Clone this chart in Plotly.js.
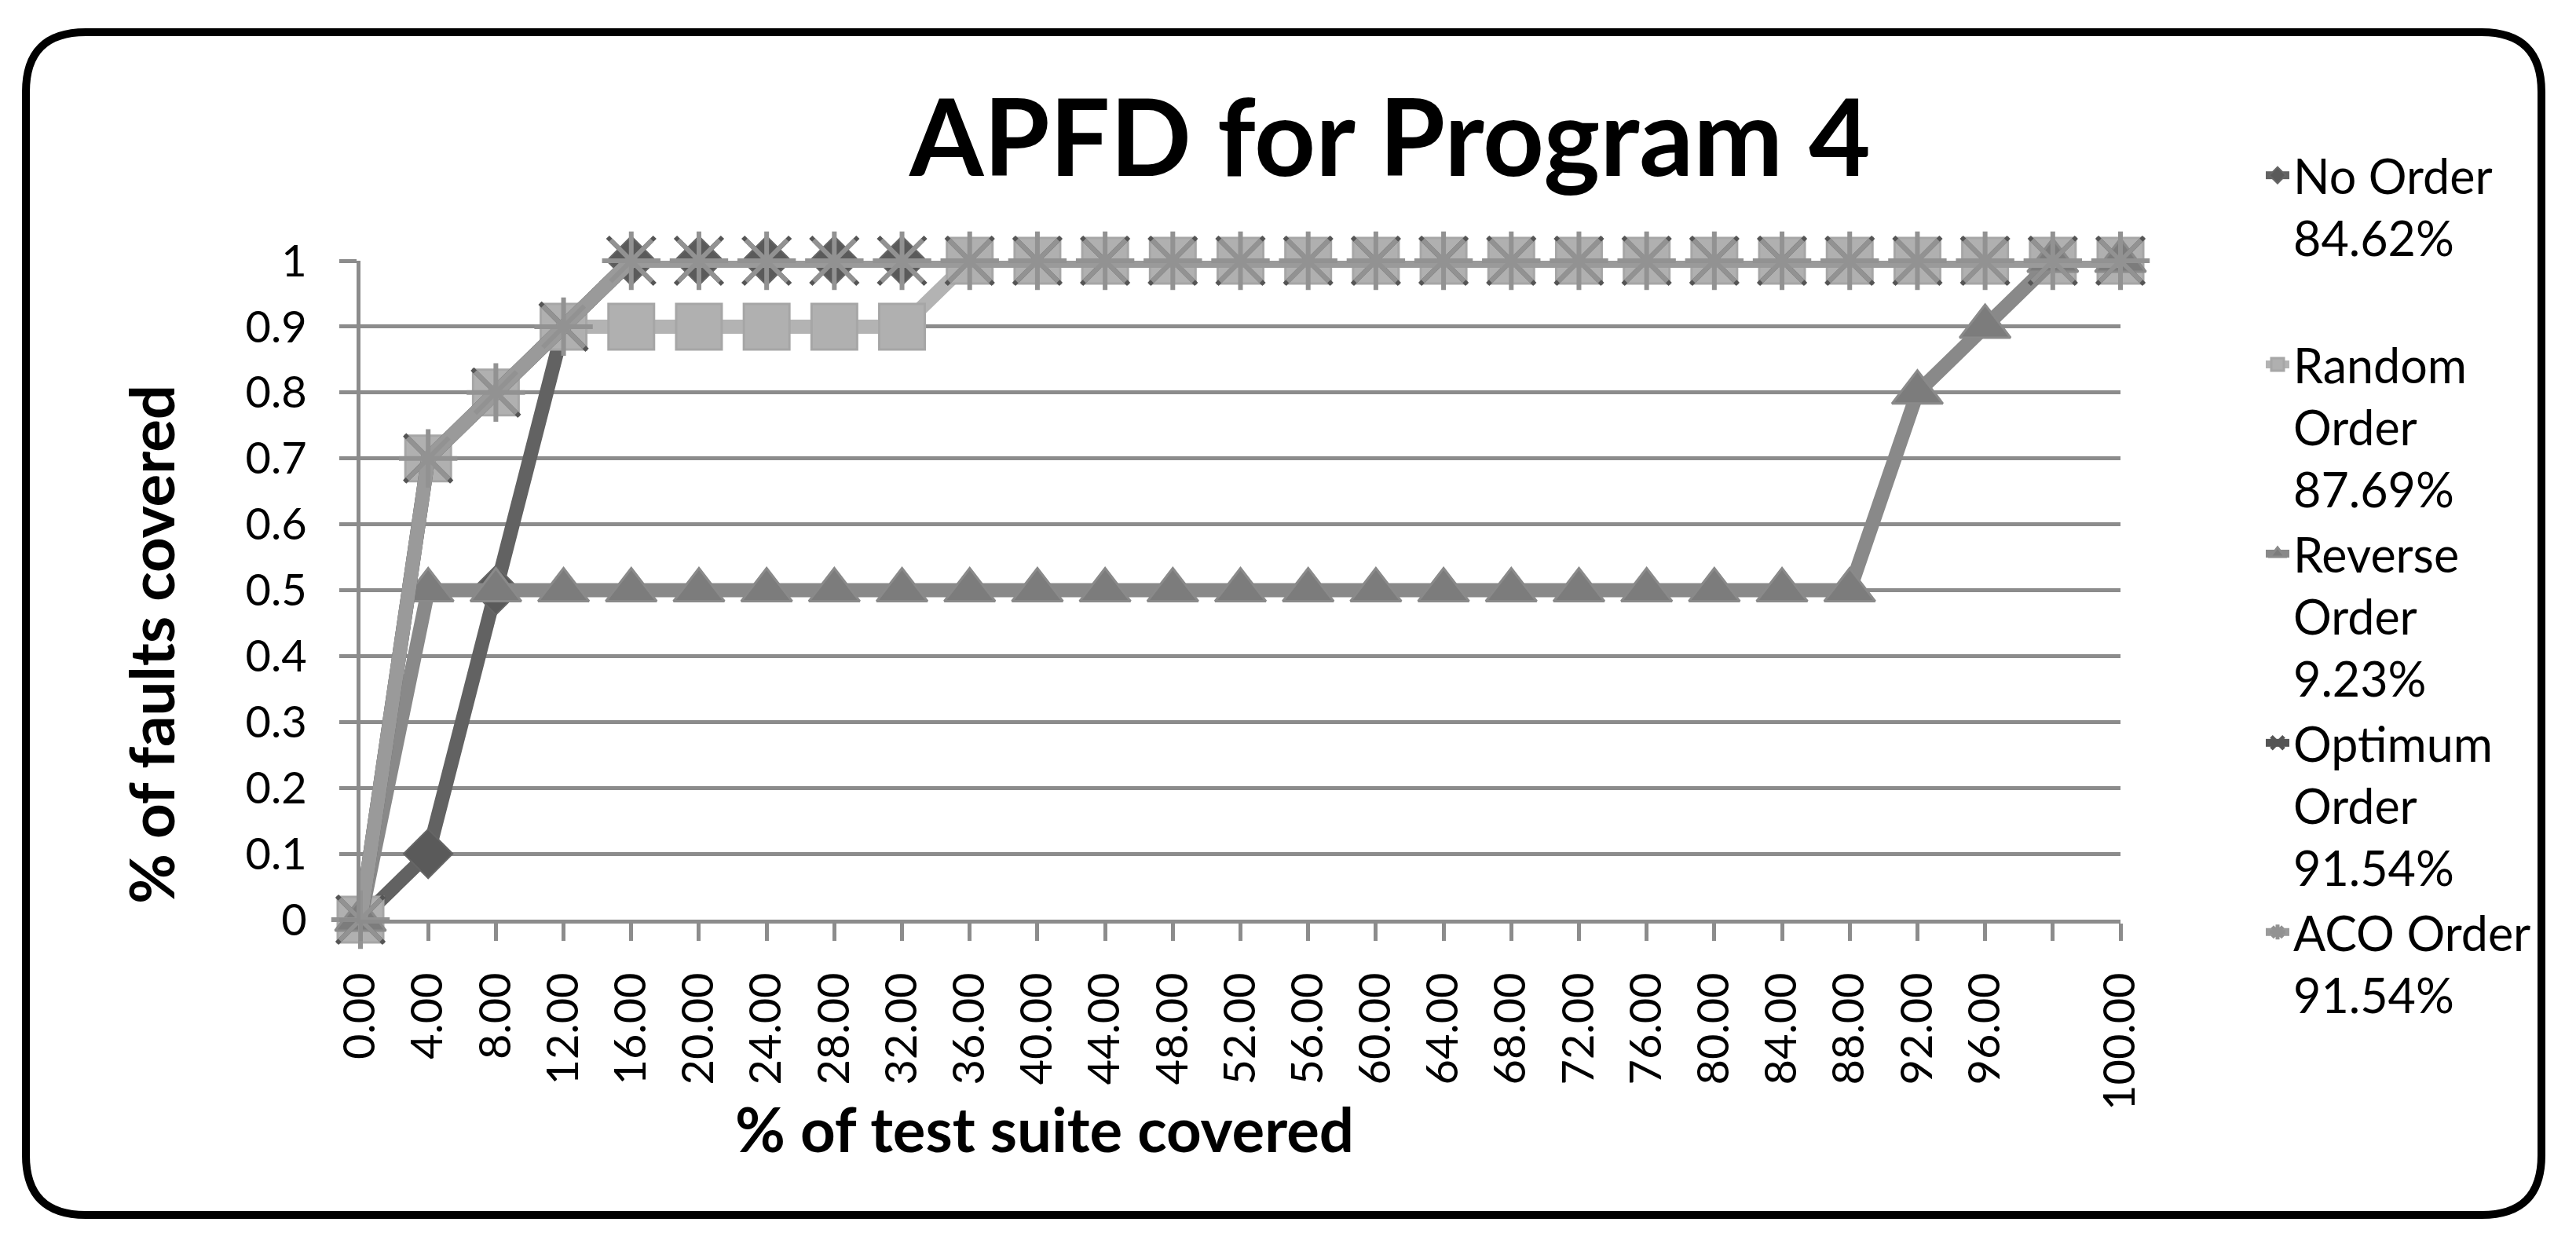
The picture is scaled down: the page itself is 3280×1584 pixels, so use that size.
<!DOCTYPE html>
<html>
<head>
<meta charset="utf-8">
<script src="https://cdn.plot.ly/plotly-3.0.1.min.js"></script>
<style>
  html, body { margin: 0; padding: 0; background: #ffffff; }
  #chart { width: 3280px; height: 1584px; }
</style>
</head>
<body>
<div id="chart"></div>
<script>
// ---------- data ----------
const xLabels = ["0.00","4.00","8.00","12.00","16.00","20.00","24.00","28.00","32.00","36.00",
                 "40.00","44.00","48.00","52.00","56.00","60.00","64.00","68.00","72.00","76.00",
                 "80.00","84.00","88.00","92.00","96.00","","100.00"];

const noOrder      = [0,0.1,0.5,0.9,1,1,1,1,1,1,1,1,1,1,1,1,1,1,1,1,1,1,1,1,1,1,1];
const randomOrder  = [0,0.7,0.8,0.9,0.9,0.9,0.9,0.9,0.9,1,1,1,1,1,1,1,1,1,1,1,1,1,1,1,1,1,1];
const reverseOrder = [0,0.5,0.5,0.5,0.5,0.5,0.5,0.5,0.5,0.5,0.5,0.5,0.5,0.5,0.5,0.5,0.5,0.5,0.5,0.5,0.5,0.5,0.5,0.8,0.9,1,1];
const optimumOrder = [0,0.7,0.8,0.9,1,1,1,1,1,1,1,1,1,1,1,1,1,1,1,1,1,1,1,1,1,1,1];
const acoOrder     = [0,0.7,0.8,0.9,1,1,1,1,1,1,1,1,1,1,1,1,1,1,1,1,1,1,1,1,1,1,1];

const seriesNames = [
  "No Order<br>84.62%<br>\u00A0",
  "Random<br>Order<br>87.69%",
  "Reverse<br>Order<br>9.23%",
  "Optimum<br>Order<br>91.54%",
  "ACO Order<br>91.54%"
];
const yTickVals = [0,0.1,0.2,0.3,0.4,0.5,0.6,0.7,0.8,0.9,1];

// ---------- geometry helpers ----------
const W = 3280, H = 1584;
const L = 459, R = 2700, T = 332, B = 1171;
const px2x = p => (p - L) / (R - L);
const px2y = p => (B - p) / (B - T);

const xIdx = xLabels.map((_, i) => i);
const FONT = "Lato, 'Open Sans', sans-serif";
const GRID = "#8c8c8c";

function tr(name, y, lineColor, sym, size, fill, mline, mlw) {
  return {
    type: "scatter", mode: "lines+markers", name: name,
    x: xIdx, y: y, cliponaxis: false,
    line: { color: lineColor, width: 18 },
    marker: { symbol: sym, size: size, color: fill, line: { color: mline, width: mlw } }
  };
}

const traces = [
  tr(seriesNames[0], noOrder,      "#626262", "diamond",       48, "#5a5a5a", "#666666", 2),
  tr(seriesNames[1], randomOrder,  "#b3b3b3", "square",        58, "#b0b0b0", "#a6a6a6", 3),
  tr(seriesNames[2], reverseOrder, "#898989", "triangle-up",   56, "#7c7c7c", "#8a8a8a", 3),
  tr(seriesNames[3], optimumOrder, "#555555", "x-thin-open",   60, "#555555", "#555555", 6),
  tr(seriesNames[4], acoOrder,     "#9a9a9a", "asterisk-open", 62, "#929292", "#929292", 6)
];

// rounded frame path (pixel -> paper)
function framePath(x0, y0, x1, y1, r) {
  const P = (a, b) => px2x(a).toFixed(5) + "," + px2y(b).toFixed(5);
  return "M" + P(x0 + r, y0) + " L" + P(x1 - r, y0) + " Q" + P(x1, y0) + " " + P(x1, y0 + r) +
         " L" + P(x1, y1 - r) + " Q" + P(x1, y1) + " " + P(x1 - r, y1) +
         " L" + P(x0 + r, y1) + " Q" + P(x0, y1) + " " + P(x0, y1 - r) +
         " L" + P(x0, y0 + r) + " Q" + P(x0, y0) + " " + P(x0 + r, y0) + " Z";
}

const layout = {
  width: W, height: H,
  margin: { l: L, r: W - R, t: T, b: H - B, pad: 0 },
  paper_bgcolor: "#ffffff", plot_bgcolor: "#ffffff",
  font: { family: FONT, color: "#000000" },
  showlegend: true,
  title: {
    text: "<b>APFD for Program 4</b>",
    font: { family: FONT, size: 136, color: "#000000" },
    x: 1770 / W, xanchor: "center", xref: "container",
    y: 1 - 176 / H, yanchor: "middle", yref: "container"
  },
  xaxis: {
    range: [0, 26], tickmode: "array", tickvals: xIdx, ticktext: xLabels,
    tickangle: -90, ticks: "outside", ticklen: 22, tickwidth: 5, tickcolor: GRID,
    showline: true, linecolor: GRID, linewidth: 5, showgrid: false, zeroline: false,
    tickfont: { family: FONT, size: 56, color: "#000000" },
    ticklabelstandoff: 18, fixedrange: true
  },
  yaxis: {
    range: [0, 1], tickmode: "array", tickvals: yTickVals,
    ticks: "outside", ticklen: 22, tickwidth: 5, tickcolor: GRID,
    showline: true, linecolor: GRID, linewidth: 5,
    showgrid: true, gridcolor: GRID, gridwidth: 5, zeroline: false,
    tickfont: { family: FONT, size: 56, color: "#000000" },
    ticklabelstandoff: 30, fixedrange: true
  },
  legend: {
    x: 2880 / W, xref: "container", xanchor: "left",
    y: 1 - 177 / H, yref: "container", yanchor: "top",
    maxheight: 1400,
    font: { family: FONT, size: 61, color: "#000000" },
    bgcolor: "rgba(0,0,0,0)", borderwidth: 0, valign: "top",
    traceorder: "normal", tracegroupgap: 0
  },
  annotations: [
    { text: "<b>% of faults covered</b>", xref: "paper", yref: "paper",
      x: px2x(192), y: px2y(821), xanchor: "center", yanchor: "middle",
      textangle: -90, showarrow: false, font: { family: FONT, size: 78, color: "#000000" } },
    { text: "<b>% of test suite covered</b>", xref: "paper", yref: "paper",
      x: px2x(1330), y: px2y(1437), xanchor: "center", yanchor: "middle",
      showarrow: false, font: { family: FONT, size: 78, color: "#000000" } }
  ],
  shapes: [
    { type: "path", xref: "paper", yref: "paper", path: framePath(33, 41, 3236, 1547, 76),
      line: { color: "#000000", width: 10 }, fillcolor: "rgba(0,0,0,0)", layer: "above" }
  ]
};

Plotly.newPlot("chart", traces, layout, { displayModeBar: false, staticPlot: true });
</script>
</body>
</html>
